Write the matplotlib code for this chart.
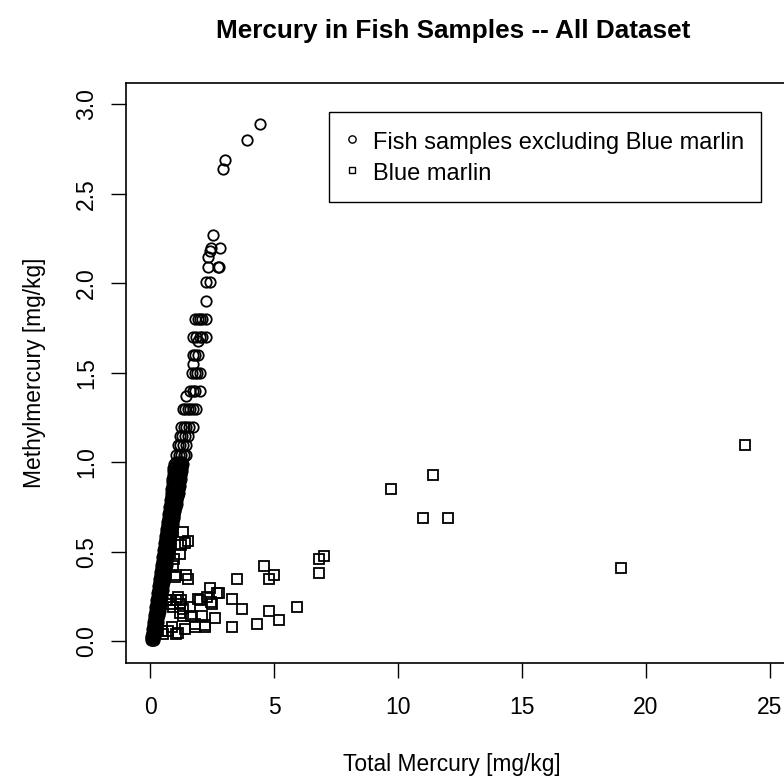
#Mercury in fish samples - scatter of methylmercury against total mercury,
#blue marlin drawn apart from the other fish samples.

import matplotlib
matplotlib.use("Agg")
import matplotlib.pyplot as plt

plt.rcParams['font.family'] = ['Liberation Sans', 'DejaVu Sans']

# fish samples excluding blue marlin (total Hg, methyl Hg) in mg/kg
fish_thg = [
    0.01, 0.05, 0.09, 0.13,  0.03, 0.08, 0.13, 0.18,  0.05, 0.10, 0.16, 0.21,
    0.07, 0.13, 0.19, 0.25,  0.09, 0.15, 0.21, 0.28,  0.11, 0.17, 0.24, 0.30,
    0.13, 0.20, 0.26, 0.32,  0.15, 0.22, 0.28, 0.34,  0.17, 0.24, 0.30, 0.37,
    0.20, 0.26, 0.33, 0.39,  0.22, 0.28, 0.35, 0.41,  0.24, 0.30, 0.37, 0.43,
    0.26, 0.32, 0.39, 0.46,  0.28, 0.34, 0.41, 0.48,  0.30, 0.37, 0.43, 0.50,
    0.32, 0.39, 0.45, 0.52,  0.34, 0.41, 0.47, 0.54,  0.36, 0.43, 0.49, 0.56,
    0.38, 0.45, 0.51, 0.58,  0.40, 0.47, 0.53, 0.60,  0.42, 0.49, 0.56, 0.63,
    0.44, 0.51, 0.58, 0.65,  0.46, 0.53, 0.60, 0.68,  0.48, 0.55, 0.62, 0.70,
    0.50, 0.57, 0.64, 0.72,  0.52, 0.59, 0.66, 0.74,  0.54, 0.61, 0.68, 0.76,
    0.56, 0.63, 0.70, 0.78,  0.58, 0.65, 0.72, 0.80,  0.60, 0.67, 0.75, 0.83,
    0.62, 0.69, 0.77, 0.85,  0.64, 0.71, 0.79, 0.87,  0.66, 0.73, 0.81, 0.90,
    0.68, 0.75, 0.84, 0.92,  0.70, 0.78, 0.86, 0.95,  0.72, 0.80, 0.88, 0.97,
    0.73, 0.82, 0.91, 1.00,  0.75, 0.84, 0.93, 1.03,  0.77, 0.86, 0.96, 1.06,
    0.79, 0.88, 0.98, 1.09,  0.81, 0.91, 1.01, 1.12,  0.82, 0.93, 1.04, 1.15,
    0.84, 0.95, 1.06, 1.17,  0.86, 0.97, 1.08, 1.19,  0.87, 0.99, 1.10, 1.21,
    0.88, 1.01, 1.12, 1.23,  0.89, 1.03, 1.14, 1.25,  0.90, 1.05, 1.16, 1.27,
    0.92, 1.07, 1.19, 1.29,  0.94, 1.10, 1.22, 1.31,
    0.03, 0.08, 0.13,  0.06, 0.11, 0.17,  0.09, 0.14, 0.20,  0.11, 0.17, 0.23,
    0.13, 0.19, 0.26,  0.15, 0.21, 0.28,  0.17, 0.24, 0.30,  0.19, 0.26, 0.33,
    0.21, 0.28, 0.35,  0.24, 0.30, 0.37,  0.26, 0.32, 0.39,  0.28, 0.35, 0.41,
    0.30, 0.37, 0.44,  0.32, 0.39, 0.46,  0.34, 0.41, 0.48,  0.36, 0.43, 0.50,
    0.38, 0.45, 0.52,  0.40, 0.47, 0.54,  0.42, 0.49, 0.56,  0.44, 0.51, 0.58,
    0.46, 0.53, 0.61,  0.48, 0.55, 0.63,  0.50, 0.57, 0.66,  0.52, 0.59, 0.68,
    0.54, 0.61, 0.70,  0.56, 0.63, 0.72,  0.58, 0.65, 0.74,  0.60, 0.67, 0.76,
    0.62, 0.70, 0.78,  0.64, 0.72, 0.81,  0.66, 0.74, 0.83,  0.68, 0.76, 0.85,
    0.70, 0.78, 0.88,  0.72, 0.81, 0.90,  0.74, 0.83, 0.93,  0.76, 0.85, 0.95,
    0.78, 0.87, 0.98,  0.80, 0.90, 1.01,  0.82, 0.92, 1.04,  0.84, 0.95, 1.07,
    0.86, 0.97, 1.10,  0.88, 1.00, 1.12,  0.90, 1.02, 1.14,  0.92, 1.04, 1.16,
    0.94, 1.06, 1.18,  0.96, 1.08, 1.20,  0.97, 1.10, 1.22,  0.99, 1.12, 1.24,
    1.00, 1.15, 1.27,  1.02, 1.17, 1.28,
    1.05, 1.15, 1.25, 1.35, 1.45, 1.11, 1.20, 1.30, 1.45,
    1.18, 1.28, 1.38, 1.52, 1.25, 1.35, 1.45, 1.55, 1.72,
    1.30, 1.41, 1.50, 1.60, 1.70, 1.82, 1.43,
    1.59, 1.70, 1.80, 1.99, 1.68, 1.78, 1.88, 1.99, 1.70,
    1.72, 1.80, 1.92, 1.92, 1.72, 1.85, 2.00, 2.10, 2.26,
    1.79, 1.91, 2.00, 2.07, 2.23, 2.26, 2.26, 2.42,
    2.33, 2.73, 2.77, 2.33, 2.39, 2.46, 2.80, 2.53,
    2.91, 2.99, 3.90, 4.41,
]
fish_mehg = [
    0.01, 0.01, 0.01, 0.01,  0.03, 0.03, 0.03, 0.03,  0.05, 0.05, 0.05, 0.05,
    0.07, 0.07, 0.07, 0.07,  0.09, 0.09, 0.09, 0.09,  0.11, 0.11, 0.11, 0.11,
    0.13, 0.13, 0.13, 0.13,  0.15, 0.15, 0.15, 0.15,  0.17, 0.17, 0.17, 0.17,
    0.19, 0.19, 0.19, 0.19,  0.21, 0.21, 0.21, 0.21,  0.23, 0.23, 0.23, 0.23,
    0.25, 0.25, 0.25, 0.25,  0.27, 0.27, 0.27, 0.27,  0.29, 0.29, 0.29, 0.29,
    0.31, 0.31, 0.31, 0.31,  0.33, 0.33, 0.33, 0.33,  0.35, 0.35, 0.35, 0.35,
    0.37, 0.37, 0.37, 0.37,  0.39, 0.39, 0.39, 0.39,  0.41, 0.41, 0.41, 0.41,
    0.43, 0.43, 0.43, 0.43,  0.45, 0.45, 0.45, 0.45,  0.47, 0.47, 0.47, 0.47,
    0.49, 0.49, 0.49, 0.49,  0.51, 0.51, 0.51, 0.51,  0.53, 0.53, 0.53, 0.53,
    0.55, 0.55, 0.55, 0.55,  0.57, 0.57, 0.57, 0.57,  0.59, 0.59, 0.59, 0.59,
    0.61, 0.61, 0.61, 0.61,  0.63, 0.63, 0.63, 0.63,  0.65, 0.65, 0.65, 0.65,
    0.67, 0.67, 0.67, 0.67,  0.69, 0.69, 0.69, 0.69,  0.71, 0.71, 0.71, 0.71,
    0.73, 0.73, 0.73, 0.73,  0.75, 0.75, 0.75, 0.75,  0.77, 0.77, 0.77, 0.77,
    0.79, 0.79, 0.79, 0.79,  0.81, 0.81, 0.81, 0.81,  0.83, 0.83, 0.83, 0.83,
    0.85, 0.85, 0.85, 0.85,  0.87, 0.87, 0.87, 0.87,  0.89, 0.89, 0.89, 0.89,
    0.91, 0.91, 0.91, 0.91,  0.93, 0.93, 0.93, 0.93,  0.95, 0.95, 0.95, 0.95,
    0.97, 0.97, 0.97, 0.97,  0.99, 0.99, 0.99, 0.99,
    0.02, 0.02, 0.02,  0.04, 0.04, 0.04,  0.06, 0.06, 0.06,  0.08, 0.08, 0.08,
    0.10, 0.10, 0.10,  0.12, 0.12, 0.12,  0.14, 0.14, 0.14,  0.16, 0.16, 0.16,
    0.18, 0.18, 0.18,  0.20, 0.20, 0.20,  0.22, 0.22, 0.22,  0.24, 0.24, 0.24,
    0.26, 0.26, 0.26,  0.28, 0.28, 0.28,  0.30, 0.30, 0.30,  0.32, 0.32, 0.32,
    0.34, 0.34, 0.34,  0.36, 0.36, 0.36,  0.38, 0.38, 0.38,  0.40, 0.40, 0.40,
    0.42, 0.42, 0.42,  0.44, 0.44, 0.44,  0.46, 0.46, 0.46,  0.48, 0.48, 0.48,
    0.50, 0.50, 0.50,  0.52, 0.52, 0.52,  0.54, 0.54, 0.54,  0.56, 0.56, 0.56,
    0.58, 0.58, 0.58,  0.60, 0.60, 0.60,  0.62, 0.62, 0.62,  0.64, 0.64, 0.64,
    0.66, 0.66, 0.66,  0.68, 0.68, 0.68,  0.70, 0.70, 0.70,  0.72, 0.72, 0.72,
    0.74, 0.74, 0.74,  0.76, 0.76, 0.76,  0.78, 0.78, 0.78,  0.80, 0.80, 0.80,
    0.82, 0.82, 0.82,  0.84, 0.84, 0.84,  0.86, 0.86, 0.86,  0.88, 0.88, 0.88,
    0.90, 0.90, 0.90,  0.92, 0.92, 0.92,  0.94, 0.94, 0.94,  0.96, 0.96, 0.96,
    0.98, 0.98, 0.98,  1.00, 1.00, 1.00,
    1.04, 1.04, 1.04, 1.04, 1.04, 1.10, 1.10, 1.10, 1.10,
    1.15, 1.15, 1.15, 1.15, 1.20, 1.20, 1.20, 1.20, 1.20,
    1.30, 1.30, 1.30, 1.30, 1.30, 1.30, 1.37,
    1.40, 1.40, 1.40, 1.40, 1.50, 1.50, 1.50, 1.50, 1.55,
    1.60, 1.60, 1.60, 1.68, 1.70, 1.70, 1.70, 1.70, 1.70,
    1.80, 1.80, 1.80, 1.80, 1.80, 1.90, 2.01, 2.01,
    2.09, 2.09, 2.09, 2.15, 2.18, 2.20, 2.20, 2.27,
    2.64, 2.69, 2.80, 2.89,
]

# blue marlin samples
marlin_thg = [
    24.0, 11.4, 9.7, 11.0, 12.0, 7.0, 6.8, 6.8, 19.0, 5.9,
    4.6, 5.0, 4.8, 3.5, 4.8, 5.2, 4.3, 3.3, 3.7, 3.3,
    2.7, 2.4, 2.3, 2.0, 2.5, 2.6, 2.1, 2.2, 1.8, 1.9,
    1.6, 1.25, 1.65, 1.3, 1.4, 1.1, 1.3, 1.5, 1.4, 1.25,
    1.2, 1.45, 1.5, 1.05, 1.05, 1.2, 0.5, 1.05, 0.85, 0.8,
    0.9, 0.9, 1.0, 0.95, 2.75, 2.45, 1.1, 0.65, 0.45, 0.7,
    1.8, 2.2, 1.3, 0.8, 1.2,
]
marlin_mehg = [
    1.10, 0.93, 0.85, 0.69, 0.69, 0.48, 0.46, 0.38, 0.41, 0.19,
    0.42, 0.37, 0.35, 0.35, 0.17, 0.12, 0.10, 0.08, 0.18, 0.24,
    0.27, 0.30, 0.25, 0.23, 0.21, 0.13, 0.14, 0.08, 0.08, 0.24,
    0.19, 0.23, 0.14, 0.14, 0.07, 0.05, 0.61, 0.56, 0.55, 0.54,
    0.49, 0.37, 0.35, 0.37, 0.23, 0.16, 0.04, 0.04, 0.08, 0.23,
    0.19, 0.42, 0.36, 0.46, 0.27, 0.22, 0.25, 0.23, 0.06, 0.06,
    0.10, 0.09, 0.18, 0.21, 0.21,
]

labels = ["Fish samples excluding Blue marlin", "Blue marlin"]

fig = plt.figure(figsize=(7.84, 7.83), dpi=100)
ax = fig.add_axes([0.1603, 0.1533, 0.8534, 0.7407])

p1, = ax.plot(fish_thg, fish_mehg, 'o', mfc='none', mec='black', ms=7.5, mew=1.3)
p2, = ax.plot(marlin_thg, marlin_mehg, 's', mfc='none', mec='black', ms=7.0, mew=1.3)

ax.set_xlim(-1, 26)
ax.set_ylim(-0.12, 3.12)
ax.set_xticks([0, 5, 10, 15, 20, 25])
ax.set_yticks([0, 0.5, 1.0, 1.5, 2.0, 2.5, 3.0])
ax.set_yticklabels(["0.0", "0.5", "1.0", "1.5", "2.0", "2.5", "3.0"])
for s in ax.spines.values():
    s.set_linewidth(1.2)
    s.set_color('black')
ax.tick_params(direction='out', length=10.5, width=1.0, labelsize=16.5)
ax.tick_params(axis='x', pad=13)
ax.tick_params(axis='y', pad=9.5, labelrotation=90)
for t in ax.get_yticklabels():
    t.set_va('center')

fig.text(453/784, 1 - 31/783, "Mercury in Fish Samples -- All Dataset",
         ha='center', va='center', fontsize=18.8, fontweight='bold')
fig.text(452/784, 1 - 765/783, "Total Mercury [mg/kg]",
         ha='center', va='center', fontsize=16.4)
fig.text(35/784, 1 - 373/783, "Methylmercury [mg/kg]",
         ha='center', va='center', fontsize=16.4, rotation=90)

leg = ax.legend([p1, p2], labels, loc='upper right',
                bbox_to_anchor=(761/784, 1 - 112/783), bbox_transform=fig.transFigure,
                borderaxespad=0, fontsize=17, markerscale=0.7, fancybox=False,
                edgecolor='black', framealpha=1, borderpad=0.72,
                handlelength=0.55, handleheight=1.2, handletextpad=0.6,
                labelspacing=0.25)
leg.get_frame().set_linewidth(1.0)
for h in leg.legend_handles:
    h.set_markeredgewidth(1.0)

plt.savefig("out.png", dpi=100)
